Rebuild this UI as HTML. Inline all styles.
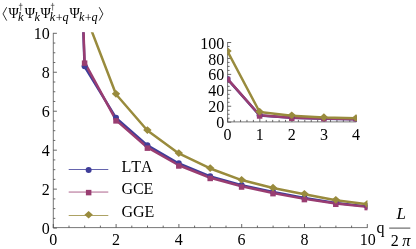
<!DOCTYPE html><html><head><meta charset="utf-8"><style>html,body{margin:0;padding:0;background:#fff;}svg{display:block;will-change:transform;}text{font-family:"Liberation Serif",serif;fill:#000;font-kerning:none;}</style></head><body>
<svg width="416" height="249" viewBox="0 0 416 249">
<rect width="416" height="249" fill="#fff"/>
<defs><clipPath id="c"><rect x="53.2" y="32.30" width="314.30" height="195.80"/></clipPath><clipPath id="ci"><rect x="227.5" y="42.50" width="129.42" height="79.10"/></clipPath></defs>
<g stroke="#555" stroke-width="0.8" fill="none">
<path d="M53.3 32.90V228.0M52.9 227.6H367.60"/>
<path d="M227.6 42.10V122.30000000000001M227.2 121.9H356.42"/>
</g>
<g stroke="#4c4c4c" stroke-width="0.85" fill="none">
<path d="M53.30 227.6v-3.6M69.00 227.6v-2.0M84.70 227.6v-2.0M100.40 227.6v-2.0M116.10 227.6v-3.6M131.80 227.6v-2.0M147.50 227.6v-2.0M163.20 227.6v-2.0M178.90 227.6v-3.6M194.60 227.6v-2.0M210.30 227.6v-2.0M226.00 227.6v-2.0M241.70 227.6v-3.6M257.40 227.6v-2.0M273.10 227.6v-2.0M288.80 227.6v-2.0M304.50 227.6v-3.6M320.20 227.6v-2.0M335.90 227.6v-2.0M351.60 227.6v-2.0M367.30 227.6v-3.6M53.3 228.10h3.6M53.3 218.36h2.0M53.3 208.62h2.0M53.3 198.88h2.0M53.3 189.14h3.6M53.3 179.40h2.0M53.3 169.66h2.0M53.3 159.92h2.0M53.3 150.18h3.6M53.3 140.44h2.0M53.3 130.70h2.0M53.3 120.96h2.0M53.3 111.22h3.6M53.3 101.48h2.0M53.3 91.74h2.0M53.3 82.00h2.0M53.3 72.26h3.6M53.3 62.52h2.0M53.3 52.78h2.0M53.3 43.04h2.0M53.3 33.30h3.6"/>
<path d="M227.70 121.9v-3.6M234.13 121.9v-2.0M240.55 121.9v-2.0M246.98 121.9v-2.0M253.40 121.9v-2.0M259.83 121.9v-3.6M266.26 121.9v-2.0M272.68 121.9v-2.0M279.11 121.9v-2.0M285.53 121.9v-2.0M291.96 121.9v-3.6M298.39 121.9v-2.0M304.81 121.9v-2.0M311.24 121.9v-2.0M317.66 121.9v-2.0M324.09 121.9v-3.6M330.52 121.9v-2.0M336.94 121.9v-2.0M343.37 121.9v-2.0M349.79 121.9v-2.0M356.22 121.9v-3.6M227.6 122.20h3.6M227.6 118.22h2.0M227.6 114.23h2.0M227.6 110.25h2.0M227.6 106.26h3.6M227.6 102.28h2.0M227.6 98.29h2.0M227.6 94.31h2.0M227.6 90.32h3.6M227.6 86.34h2.0M227.6 82.35h2.0M227.6 78.37h2.0M227.6 74.38h3.6M227.6 70.40h2.0M227.6 66.41h2.0M227.6 62.42h2.0M227.6 58.44h3.6M227.6 54.45h2.0M227.6 50.47h2.0M227.6 46.48h2.0M227.6 42.50h3.6"/>
</g>
<g clip-path="url(#c)">
<polyline points="53.20,-808.24 84.60,66.61 116.00,117.94 147.40,145.41 178.80,163.52 210.20,176.38 241.60,185.24 273.00,192.06 304.40,198.10 335.80,203.07 367.20,206.38" fill="none" stroke="#3f3d99" stroke-width="2.5" stroke-linejoin="round"/>
<polyline points="53.20,-817.98 84.60,62.46 116.00,120.18 147.40,147.45 178.80,165.28 210.20,177.74 241.60,186.32 273.00,192.94 304.40,198.88 335.80,203.56 367.20,206.87" fill="none" stroke="#993d71" stroke-width="2.5" stroke-linejoin="round"/>
<polyline points="53.20,-1499.78 84.60,12.65 116.00,94.27 147.40,130.51 178.80,153.49 210.20,168.49 241.60,180.08 273.00,188.07 304.40,194.20 335.80,200.24 367.20,204.24" fill="none" stroke="#998b3d" stroke-width="2.5" stroke-linejoin="round"/>
<circle cx="53.20" cy="-808.49" r="3.00" fill="#3f3d99"/><circle cx="84.60" cy="66.36" r="3.00" fill="#3f3d99"/><circle cx="116.00" cy="117.69" r="3.00" fill="#3f3d99"/><circle cx="147.40" cy="145.16" r="3.00" fill="#3f3d99"/><circle cx="178.80" cy="163.27" r="3.00" fill="#3f3d99"/><circle cx="210.20" cy="176.13" r="3.00" fill="#3f3d99"/><circle cx="241.60" cy="184.99" r="3.00" fill="#3f3d99"/><circle cx="273.00" cy="191.81" r="3.00" fill="#3f3d99"/><circle cx="304.40" cy="197.85" r="3.00" fill="#3f3d99"/><circle cx="335.80" cy="202.82" r="3.00" fill="#3f3d99"/><circle cx="367.20" cy="206.13" r="3.00" fill="#3f3d99"/>
<rect x="50.45" y="-820.03" width="5.50" height="5.50" fill="#993d71"/><rect x="81.85" y="60.41" width="5.50" height="5.50" fill="#993d71"/><rect x="113.25" y="118.13" width="5.50" height="5.50" fill="#993d71"/><rect x="144.65" y="145.40" width="5.50" height="5.50" fill="#993d71"/><rect x="176.05" y="163.23" width="5.50" height="5.50" fill="#993d71"/><rect x="207.45" y="175.69" width="5.50" height="5.50" fill="#993d71"/><rect x="238.85" y="184.27" width="5.50" height="5.50" fill="#993d71"/><rect x="270.25" y="190.89" width="5.50" height="5.50" fill="#993d71"/><rect x="301.65" y="196.83" width="5.50" height="5.50" fill="#993d71"/><rect x="333.05" y="201.51" width="5.50" height="5.50" fill="#993d71"/><rect x="364.45" y="204.82" width="5.50" height="5.50" fill="#993d71"/>
<path d="M49.00 -1500.18L53.20 -1503.98L57.40 -1500.18L53.20 -1496.38Z" fill="#998b3d"/><path d="M80.40 12.25L84.60 8.45L88.80 12.25L84.60 16.05Z" fill="#998b3d"/><path d="M111.80 93.87L116.00 90.07L120.20 93.87L116.00 97.67Z" fill="#998b3d"/><path d="M143.20 130.11L147.40 126.31L151.60 130.11L147.40 133.91Z" fill="#998b3d"/><path d="M174.60 153.09L178.80 149.29L183.00 153.09L178.80 156.89Z" fill="#998b3d"/><path d="M206.00 168.09L210.20 164.29L214.40 168.09L210.20 171.89Z" fill="#998b3d"/><path d="M237.40 179.68L241.60 175.88L245.80 179.68L241.60 183.48Z" fill="#998b3d"/><path d="M268.80 187.67L273.00 183.87L277.20 187.67L273.00 191.47Z" fill="#998b3d"/><path d="M300.20 193.80L304.40 190.00L308.60 193.80L304.40 197.60Z" fill="#998b3d"/><path d="M331.60 199.84L335.80 196.04L340.00 199.84L335.80 203.64Z" fill="#998b3d"/><path d="M363.00 203.84L367.20 200.04L371.40 203.84L367.20 207.64Z" fill="#998b3d"/>
</g>
<g clip-path="url(#ci)">
<polyline points="227.50,79.20 259.63,115.43 291.76,117.72 323.89,118.67 356.02,119.23" fill="none" stroke="#3f3d99" stroke-width="2.5" stroke-linejoin="round"/>
<polyline points="227.50,78.81 259.63,115.27 291.76,117.64 323.89,118.59 356.02,119.15" fill="none" stroke="#993d71" stroke-width="2.5" stroke-linejoin="round"/>
<polyline points="227.50,51.36 259.63,112.03 291.76,115.67 323.89,117.57 356.02,118.36" fill="none" stroke="#998b3d" stroke-width="2.5" stroke-linejoin="round"/>
<circle cx="227.50" cy="78.95" r="3.00" fill="#3f3d99"/><circle cx="259.63" cy="115.18" r="3.00" fill="#3f3d99"/><circle cx="291.76" cy="117.47" r="3.00" fill="#3f3d99"/><circle cx="323.89" cy="118.42" r="3.00" fill="#3f3d99"/><circle cx="356.02" cy="118.98" r="3.00" fill="#3f3d99"/>
<rect x="224.75" y="76.76" width="5.50" height="5.50" fill="#993d71"/><rect x="256.88" y="113.22" width="5.50" height="5.50" fill="#993d71"/><rect x="289.01" y="115.59" width="5.50" height="5.50" fill="#993d71"/><rect x="321.14" y="116.54" width="5.50" height="5.50" fill="#993d71"/><rect x="353.27" y="117.10" width="5.50" height="5.50" fill="#993d71"/>
<path d="M223.30 50.96L227.50 47.16L231.70 50.96L227.50 54.76Z" fill="#998b3d"/><path d="M255.43 111.63L259.63 107.83L263.83 111.63L259.63 115.43Z" fill="#998b3d"/><path d="M287.56 115.27L291.76 111.47L295.96 115.27L291.76 119.07Z" fill="#998b3d"/><path d="M319.69 117.17L323.89 113.37L328.09 117.17L323.89 120.97Z" fill="#998b3d"/><path d="M351.82 117.96L356.02 114.16L360.22 117.96L356.02 121.76Z" fill="#998b3d"/>
</g>
<path d="M68.7 169.5H108.3" stroke="#3f3d99" stroke-opacity="0.8" stroke-width="1" fill="none"/>
<circle cx="88.65" cy="170.10" r="3.00" fill="#3f3d99"/>
<text x="121.4" y="171.60" font-size="16">LTA</text>
<path d="M68.7 192.05H108.3" stroke="#993d71" stroke-opacity="0.8" stroke-width="1" fill="none"/>
<rect x="85.90" y="189.85" width="5.50" height="5.50" fill="#993d71"/>
<text x="121.4" y="194.20" font-size="16">GCE</text>
<path d="M68.7 215.5H108.3" stroke="#998b3d" stroke-opacity="0.8" stroke-width="1" fill="none"/>
<path d="M84.45 214.70L88.65 210.90L92.85 214.70L88.65 218.50Z" fill="#998b3d"/>
<text x="121.4" y="216.90" font-size="16">GGE</text>
<text x="49.7" y="233.50" font-size="16" text-anchor="end">0</text>
<text x="49.7" y="194.68" font-size="16" text-anchor="end">2</text>
<text x="49.7" y="155.86" font-size="16" text-anchor="end">4</text>
<text x="49.7" y="117.04" font-size="16" text-anchor="end">6</text>
<text x="49.7" y="78.22" font-size="16" text-anchor="end">8</text>
<text x="49.7" y="39.40" font-size="16" text-anchor="end">10</text>
<text x="53.20" y="245.3" font-size="16" text-anchor="middle">0</text>
<text x="116.00" y="245.3" font-size="16" text-anchor="middle">2</text>
<text x="178.80" y="245.3" font-size="16" text-anchor="middle">4</text>
<text x="241.60" y="245.3" font-size="16" text-anchor="middle">6</text>
<text x="304.40" y="245.3" font-size="16" text-anchor="middle">8</text>
<text x="367.70" y="245.3" font-size="16" text-anchor="middle">10</text>
<text x="224.3" y="127.60" font-size="16" text-anchor="end">0</text>
<text x="224.3" y="111.87" font-size="16" text-anchor="end">20</text>
<text x="224.3" y="96.14" font-size="16" text-anchor="end">40</text>
<text x="224.3" y="80.41" font-size="16" text-anchor="end">60</text>
<text x="224.3" y="64.68" font-size="16" text-anchor="end">80</text>
<text x="224.3" y="48.95" font-size="16" text-anchor="end">100</text>
<text x="227.50" y="139.5" font-size="16" text-anchor="middle">0</text>
<text x="259.63" y="139.5" font-size="16" text-anchor="middle">1</text>
<text x="291.76" y="139.5" font-size="16" text-anchor="middle">2</text>
<text x="323.89" y="139.5" font-size="16" text-anchor="middle">3</text>
<text x="356.02" y="139.5" font-size="16" text-anchor="middle">4</text>
<text x="376.6" y="233.0" font-size="16">q</text>
<text x="396.6" y="218.8" font-size="17" font-style="italic">L</text>
<path d="M389.2 228.1H410.3" stroke="#000" stroke-width="0.7"/>
<text x="390.8" y="245.8" font-size="16">2</text>
<text x="402.2" y="245.8" font-size="16.5" font-style="italic">π</text>
<path d="M6.7 7.2L3.0 13.9L6.7 20.6" stroke="#000" stroke-width="0.8" fill="none"/>
<path d="M99.2 7.2L102.9 13.9L99.2 20.6" stroke="#000" stroke-width="0.8" fill="none"/>
<text x="8.4" y="17.7" font-size="14">Ψ</text>
<text x="24.8" y="17.7" font-size="14">Ψ</text>
<text x="40.5" y="17.7" font-size="14">Ψ</text>
<text x="69.6" y="17.7" font-size="14">Ψ</text>
<text x="17.9" y="21.4" font-size="12.2" font-style="italic">k</text>
<text x="34.6" y="21.4" font-size="12.2" font-style="italic">k</text>
<text x="49.8" y="21.4" font-size="12.2" font-style="italic">k</text>
<text x="55.8" y="21.7" font-size="12.2">+</text>
<text x="62.5" y="21.4" font-size="12.2" font-style="italic">q</text>
<text x="79.1" y="21.4" font-size="12.2" font-style="italic">k</text>
<text x="84.7" y="21.7" font-size="12.2">+</text>
<text x="91.4" y="21.4" font-size="12.2" font-style="italic">q</text>
<path d="M20.7 2.9V10.6M18.9 5.3H22.5" stroke="#444" stroke-width="0.7" fill="none"/>
<path d="M52.6 2.9V10.6M50.800000000000004 5.3H54.4" stroke="#444" stroke-width="0.7" fill="none"/>
</svg></body></html>
